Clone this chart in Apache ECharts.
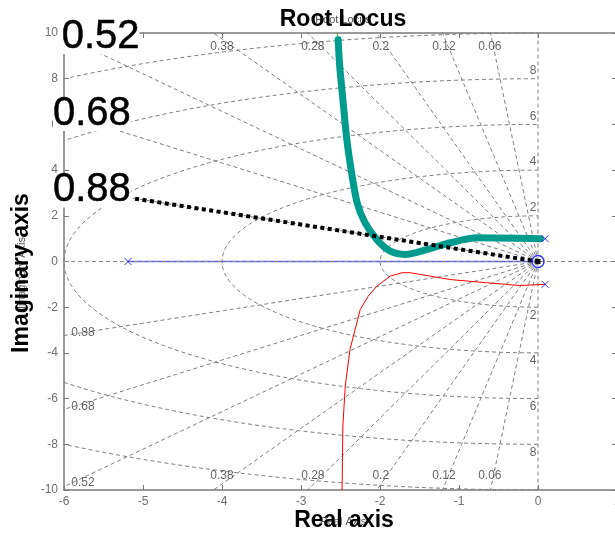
<!DOCTYPE html>
<html><head><meta charset="utf-8">
<script src="https://cdn.jsdelivr.net/npm/echarts@6/dist/echarts.min.js"></script>
<style>html,body{margin:0;padding:0;background:#fff}#c{width:615px;height:534px}</style>
</head><body><div id="c"></div>
<script>
// ---- data ----
const zetaValues = [0.06, 0.12, 0.2, 0.28, 0.38, 0.52, 0.68, 0.88];
const wnValues = [2, 4, 6, 8, 10];
const freqLabels = [2, 4, 6, 8];
const xRange = [-6, 1];
const yRange = [-10, 10];
const upperBranch = [[0.03,1.0],[-0.77,1.04],[-1.11,0.82],[-1.41,0.52],[-1.68,0.31],[-1.87,0.45],[-2.04,0.96],[-2.19,1.7],[-2.29,2.58],[-2.36,3.9],[-2.42,5.34],[-2.47,7.1],[-2.51,8.55],[-2.53,9.7],[-2.54,10]];
const lowerBranch = [[0.09,-1.0],[-0.23,-1.05],[-0.65,-0.93],[-1.11,-0.79],[-1.62,-0.49],[-1.72,-0.49],[-1.87,-0.64],[-2.04,-1.08],[-2.15,-1.52],[-2.25,-2.1],[-2.38,-3.85],[-2.44,-5.46],[-2.47,-7.2],[-2.48,-10]];
const realBranch = [[-5.19,0],[0,0]];
const poles = [[-5.19,0],[0.09,1.0],[0.09,-1.0]];
const zeros = [[0,0]];
const highlightLine = [[-5.1,2.75],[0,0]];
const zetaSmallLabels = [
  ['0.38',-4.0,9.4],['0.28',-2.85,9.4],['0.2',-1.99,9.4],['0.12',-1.19,9.4],['0.06',-0.61,9.4],
  ['0.38',-4.0,-9.37],['0.28',-2.85,-9.37],['0.2',-1.99,-9.37],['0.12',-1.19,-9.37],['0.06',-0.61,-9.37],
  ['0.88',-5.76,-3.1],['0.68',-5.76,-6.35],['0.52',-5.76,-9.67]
];
const zetaBigLabels = [['0.52',-6.03,9.83],['0.68',-6.14,6.46],['0.88',-6.14,3.11]];

// ---- build ----
const FONT = '"Liberation Sans", Arial, Helvetica, sans-serif';
const gridStyle = {color:'#7f7f7f', width:1, type:[4,3]};
const series = [];
// damping-ratio rays (plus the zeta = 0 imaginary axis)
zetaValues.concat([0]).forEach(z => {
  const s = Math.sqrt(1 - z*z);
  [1, -1].forEach(sg => {
    const far = 30;
    series.push({type:'line', data:[[0,0],[-far*z, sg*far*s]], symbol:'none', silent:true, clip:true, lineStyle:gridStyle, z:1});
  });
});
// zeta = 1 : real axis dashed line across the whole plot (drawn over the blue branch)
series.push({type:'line', data:[[xRange[0],0],[xRange[1],0]], symbol:'none', silent:true, lineStyle:{color:'#8a8a8a', width:1, type:[4,3]}, z:3.5});
// natural-frequency circles
wnValues.forEach(w => {
  const pts = [];
  for (let d = -90; d <= 90; d += 2) {
    const t = d*Math.PI/180;
    pts.push([-w*Math.cos(t), w*Math.sin(t)]);
  }
  series.push({type:'line', data:pts, symbol:'none', silent:true, clip:true, lineStyle:gridStyle, z:1});
});
// locus branches
series.push({type:'line', data:realBranch, symbol:'none', lineStyle:{color:'#5a5aff', width:1.6}, z:3});
series.push({type:'line', data:lowerBranch, symbol:'none', lineStyle:{color:'#ff0000', width:1}, z:3});
series.push({type:'line', data:upperBranch, symbol:'none', smooth:0.3, lineStyle:{color:'#00a000', width:1}, z:3});
series.push({type:'line', data:upperBranch.slice(0,-1), symbol:'none', smooth:0.3, lineStyle:{color:'#009b8f', width:7, cap:'round', join:'round'}, z:4});
// dotted highlight line
series.push({type:'line', data:[{value:highlightLine[0], symbol:'none'}, {value:highlightLine[1]}], symbol:'rect', symbolSize:5, showSymbol:true, itemStyle:{color:'#000'}, lineStyle:{color:'#000', width:4, type:[4,3.5], cap:'butt'}, z:5});
// poles and zeros
series.push({type:'scatter', data:poles, symbol:'path://M0,0L10,10M10,0L0,10', symbolSize:7, itemStyle:{color:'none', borderColor:'#0000ff', borderWidth:1}, z:6});
series.push({type:'scatter', data:zeros, symbol:'circle', symbolSize:12, itemStyle:{color:'rgba(0,0,0,0)', borderColor:'#0000ff', borderWidth:1.5}, z:6});
// labels
const hidden = {color:'rgba(0,0,0,0)'};
series.push({type:'scatter', symbolSize:1, itemStyle:hidden, silent:true, z:7,
  data: zetaSmallLabels.map(l => ({name:l[0], value:[l[1], l[2]]})),
  label:{show:true, position:'inside', formatter:'{b}', color:'#3c3c3c', fontSize:12, fontFamily:FONT}});
series.push({type:'scatter', symbolSize:1, itemStyle:hidden, silent:true, z:7,
  data: freqLabels.map(r => ({name:String(r), value:[0, r], label:{offset:[-5,-8]}})).concat(
        freqLabels.map(r => ({name:String(r), value:[0, -r], label:{offset:[-5,8]}}))),
  label:{show:true, position:'inside', formatter:'{b}', color:'#3c3c3c', fontSize:12, fontFamily:FONT}});

const axisLine = {show:true, onZero:false, lineStyle:{color:'#7a7a7a', width:1.5}};
const axisTick = {show:true, inside:true, length:5, lineStyle:{color:'#7a7a7a'}};
const textGraphics = [
  {type:'text', x:343, y:20, z:10, style:{text:'Root Locus', font:'11px '+FONT, fill:'#555', textAlign:'center', textVerticalAlign:'middle', align:'center', verticalAlign:'middle'}},
  {type:'text', x:343, y:19.5, z:11, style:{text:'Root Locus', font:'bold 23px '+FONT, fill:'#000', textAlign:'center', textVerticalAlign:'middle', align:'center', verticalAlign:'middle'}},
  {type:'text', x:343, y:522, z:10, style:{text:'Real Axis', font:'11px '+FONT, fill:'#555', textAlign:'center', textVerticalAlign:'middle', align:'center', verticalAlign:'middle'}},
  {type:'text', x:344, y:521, z:11, style:{text:'Real axis', font:'bold 23px '+FONT, fill:'#000', textAlign:'center', textVerticalAlign:'middle', align:'center', verticalAlign:'middle'}},
  {type:'text', x:22, y:273, rotation:Math.PI/2, z:10, style:{text:'Imaginary Axis', font:'11px '+FONT, fill:'#555', textAlign:'center', textVerticalAlign:'middle', align:'center', verticalAlign:'middle'}},
  {type:'text', x:22, y:273, rotation:Math.PI/2, z:11, style:{text:'Imaginary axis', font:'bold 23px '+FONT, fill:'#000', textAlign:'center', textVerticalAlign:'middle', align:'center', verticalAlign:'middle'}}
];
const option = {
  animation:false,
  textStyle:{fontFamily:FONT},
  grid:{left:64, right:-2, top:33, bottom:44, containLabel:false, outerBoundsMode:'none'},
  xAxis:[
    {type:'value', min:xRange[0], max:xRange[1], interval:1, position:'bottom', axisLine, axisTick, splitLine:{show:false},
     axisLabel:{color:'#6e6e6e', fontSize:12, margin:6, fontFamily:FONT}},
    {type:'value', min:xRange[0], max:xRange[1], interval:1, position:'top', axisLine, axisTick, splitLine:{show:false}, axisLabel:{show:false}}
  ],
  yAxis:[
    {type:'value', min:yRange[0], max:yRange[1], interval:2, position:'left', axisLine, axisTick, splitLine:{show:false},
     axisLabel:{color:'#6e6e6e', fontSize:12, margin:6, fontFamily:FONT}},
    {type:'value', min:yRange[0], max:yRange[1], interval:2, position:'right', axisLine, axisTick, splitLine:{show:false}, axisLabel:{show:false}}
  ],
  graphic: textGraphics,
  series
};
const chart = echarts.init(document.getElementById('c'), null, {renderer:'canvas'});
chart.setOption(option);
// big damping-ratio annotations, placed through the grid's scales
const bigTexts = zetaBigLabels.map(l => {
  const p = chart.convertToPixel({gridIndex:0}, [l[1], l[2]]);
  return {type:'text', x:p[0], y:p[1], z:20,
    style:{text:l[0], font:'40px '+FONT, fill:'#000', stroke:'#000', lineWidth:0.5,
           textAlign:'left', textVerticalAlign:'middle', align:'left', verticalAlign:'middle',
           lineHeight:34, backgroundColor:'#ffffff', padding:0}};
});
chart.setOption({graphic: textGraphics.concat(bigTexts)});
</script></body></html>
